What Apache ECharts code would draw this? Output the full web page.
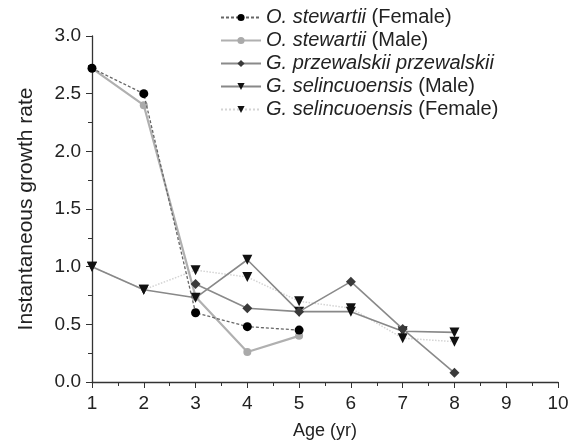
<!DOCTYPE html>
<html><head><meta charset="utf-8">
<script src="https://cdn.jsdelivr.net/npm/echarts@6/dist/echarts.min.js"></script>
<style>html,body{margin:0;padding:0;background:#fff}#c{width:574px;height:445px}</style>
</head><body><div id="c"></div>
<script>
const ages = [1, 2, 3, 4, 5, 6, 7, 8];
const oStewFemale = [2.72, 2.50, 0.60, 0.48, 0.45, null, null, null];
const oStewMale = [2.72, 2.40, 0.74, 0.26, 0.40, null, null, null];
const gPrzewalskii = [null, null, 0.85, 0.64, 0.61, 0.87, 0.46, 0.08];
const gSelMale = [1.00, 0.80, 0.73, 1.06, 0.61, 0.61, 0.44, 0.43];
const gSelFemale = [1.00, 0.80, 0.97, 0.91, 0.70, 0.64, 0.38, 0.35];
const xTicks = [1, 2, 3, 4, 5, 6, 7, 8, 9, 10];
const yTicks = [0.0, 0.5, 1.0, 1.5, 2.0, 2.5, 3.0];

const names = [
  '{i|O. stewartii} (Female)',
  '{i|O. stewartii} (Male)',
  '{i|G. przewalskii przewalskii}',
  '{i|G. selincuoensis} (Male)',
  '{i|G. selincuoensis} (Female)'
];
function pts(arr){ return ages.map((a,i)=>[a, arr[i]]).filter(p=>p[1]!==null); }

const chart = echarts.init(document.getElementById('c'), null, {renderer:'canvas'});
const font = 'Liberation Sans, Arial, sans-serif';
chart.setOption({
  animation:false,
  textStyle:{fontFamily:font},
  grid:{left:92, right:16, top:36, bottom:62, containLabel:false},
  legend:{
    orient:'vertical', left:220, top:6, padding:0, itemWidth:40, itemHeight:9, itemGap:0,
    data:names,
    textStyle:{fontFamily:font, fontSize:20, lineHeight:23, color:'#222', rich:{i:{fontStyle:'italic', fontSize:20, lineHeight:23, fontFamily:font, color:'#222'}}},
    formatter: n => n
  },
  xAxis:{
    type:'value', min:1, max:10, interval:1,
    name:'Age (yr)', nameLocation:'middle', nameGap:40,
    nameTextStyle:{fontSize:18, color:'#222', fontFamily:font},
    axisLine:{show:true, onZero:false, lineStyle:{color:'#333', width:1.3}},
    axisTick:{show:true, length:6, lineStyle:{color:'#333'}},
    minorTick:{show:true, splitNumber:2, length:4, lineStyle:{color:'#333'}},
    splitLine:{show:false},
    axisLabel:{fontSize:19, color:'#222', margin:12, formatter:v=>xTicks.includes(v)?String(v):''}
  },
  yAxis:{
    type:'value', min:0, max:3, interval:0.5,
    name:'Instantaneous growth rate', nameLocation:'middle', nameGap:55, nameRotate:90,
    nameTextStyle:{fontSize:21, color:'#222', fontFamily:font},
    axisLine:{show:true, onZero:false, lineStyle:{color:'#333', width:1.3}},
    axisTick:{show:true, length:6, lineStyle:{color:'#333'}},
    minorTick:{show:true, splitNumber:2, length:4, lineStyle:{color:'#333'}},
    splitLine:{show:false},
    axisLabel:{fontSize:19, color:'#222', margin:11, formatter:v=>yTicks.find(t=>Math.abs(t-v)<1e-6)!==undefined?v.toFixed(1):''}
  },
  series:[
    {name:names[4], type:'line', data:pts(gSelFemale), symbol:'triangle', symbolRotate:180, symbolSize:10,
     itemStyle:{color:'#111'}, lineStyle:{color:'#d4d4d4', width:1.5, type:'dotted'}, z:1},
    {name:names[1], type:'line', data:pts(oStewMale), symbol:'circle', symbolSize:8,
     itemStyle:{color:'#aaa'}, lineStyle:{color:'#b0b0b0', width:2.2}, z:2},
    {name:names[3], type:'line', data:pts(gSelMale), symbol:'triangle', symbolRotate:180, symbolSize:10,
     itemStyle:{color:'#111'}, lineStyle:{color:'#888', width:1.6}, z:3},
    {name:names[2], type:'line', data:pts(gPrzewalskii), symbol:'diamond', symbolSize:10,
     itemStyle:{color:'#3a3a3a'}, lineStyle:{color:'#8a8a8a', width:1.6}, z:4},
    {name:names[0], type:'line', data:pts(oStewFemale), symbol:'circle', symbolSize:9,
     itemStyle:{color:'#000'}, lineStyle:{color:'#666', width:1.3, type:[3,2]}, z:5}
  ]
});
</script></body></html>
